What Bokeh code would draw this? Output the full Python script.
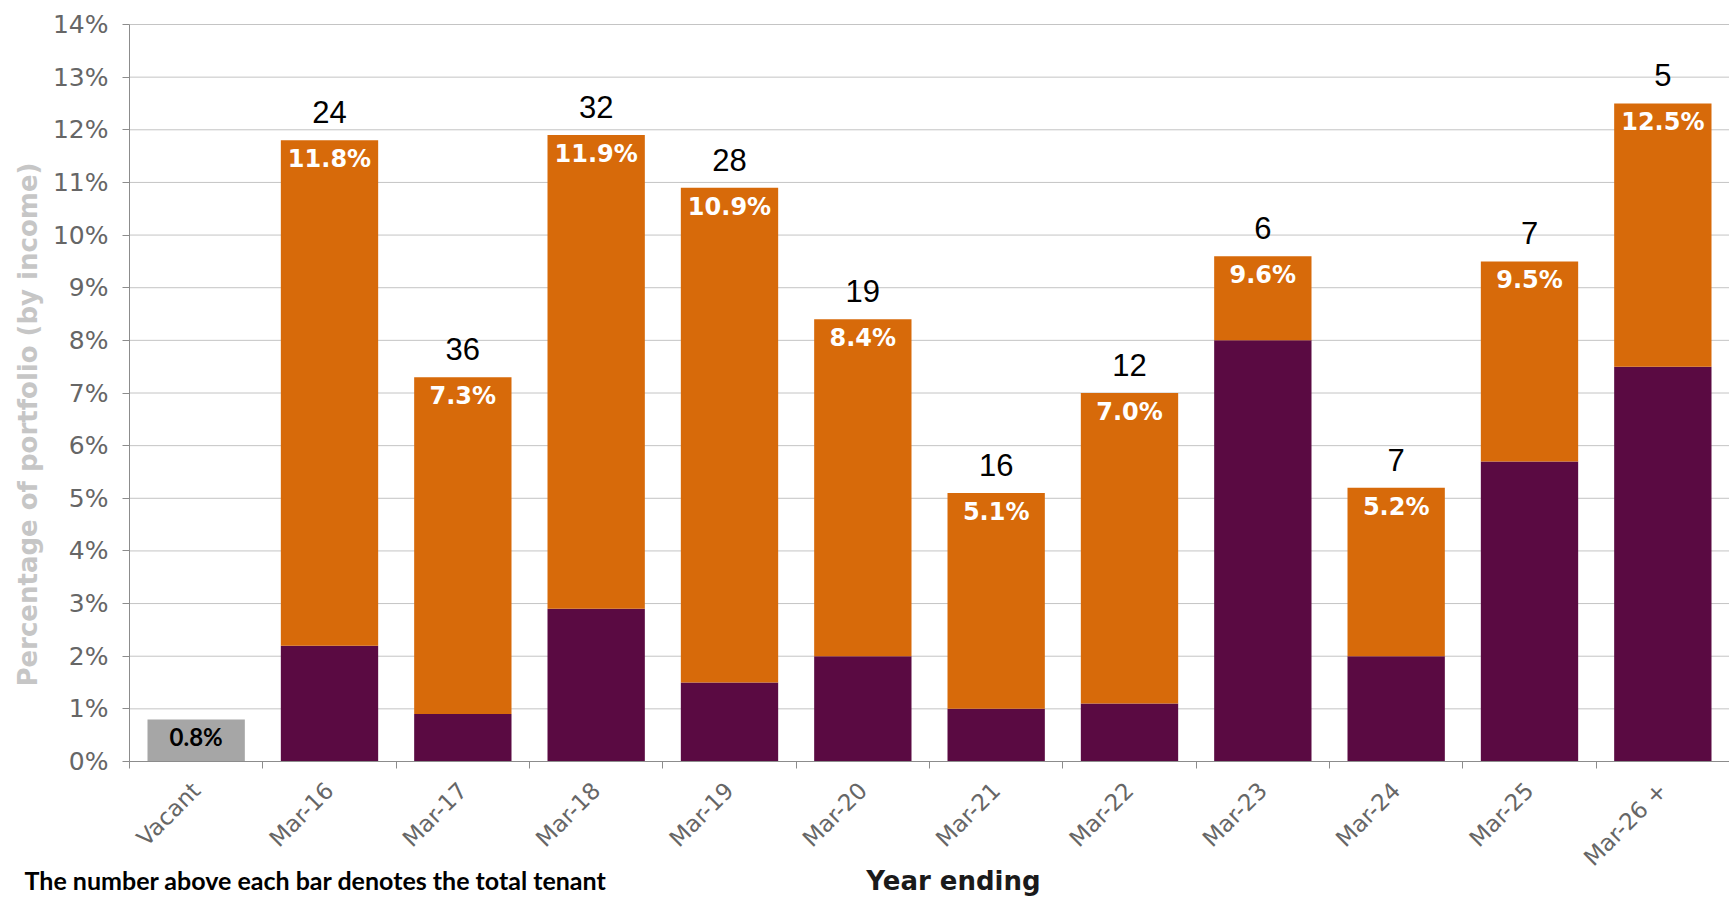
from math import pi

from bokeh.core.properties import value
from bokeh.embed import file_html
from bokeh.models import (ColumnDataSource, CustomJSTickFormatter, FixedTicker,
                          Label, PrintfTickFormatter, Range1d)
from bokeh.plotting import figure
from bokeh.resources import INLINE

# Lease expiry profile: share of portfolio income by year ending
categories = ["Vacant", "Mar-16", "Mar-17", "Mar-18", "Mar-19", "Mar-20",
              "Mar-21", "Mar-22", "Mar-23", "Mar-24", "Mar-25", "Mar-26 +"]
total_share = [0.8, 11.8, 7.3, 11.9, 10.9, 8.4, 5.1, 7.0, 9.6, 5.2, 9.5, 12.5]
base_share = [0.0, 2.2, 0.9, 2.9, 1.5, 2.0, 1.0, 1.1, 8.0, 2.0, 5.7, 7.5]
tenant_counts = [None, 24, 36, 32, 28, 19, 16, 12, 6, 7, 7, 5]
y_ticks = list(range(0, 15))

ORANGE = "#D76A0A"
PURPLE = "#5A0A42"
GREY_BAR = "#A6A6A6"
AXIS_GREY = "#8C8C8C"
TICK_TEXT = "#666666"

n = len(categories)
centers = [i + 0.5 for i in range(n)]
boundaries = list(range(n + 1))

# The frame covers the whole canvas; both axes sit at zero so that the
# titles and the note below the axis can be drawn as ordinary text.
W, H = 1729, 898
LEFT, TOP, BOTTOM = 129, 24, 137
x_per_px = n / (W - LEFT)
y_per_px = y_ticks[-1] / (H - TOP - BOTTOM)
x_range = Range1d(-LEFT * x_per_px, n)
y_range = Range1d(-BOTTOM * y_per_px, y_ticks[-1] + TOP * y_per_px)

p = figure(width=W, height=H, output_backend="svg", toolbar_location=None,
           x_range=x_range, y_range=y_range,
           min_border_left=0, min_border_right=0, min_border_top=0,
           min_border_bottom=0)
p.outline_line_color = None
p.background_fill_color = "white"
p.border_fill_color = "white"
p.xgrid.grid_line_color = None
p.ygrid.grid_line_color = None

# horizontal gridlines, from the value axis to the right edge
p.segment(x0=0, x1=n, y0=y_ticks, y1=y_ticks, line_color="#C4C4C4",
          line_width=1, level="underlay")

# vacant space
vac = ColumnDataSource(dict(x=centers[:1], top=total_share[:1],
                            label=[f"{total_share[0]:.1f}%"]))
p.vbar(x="x", top="top", width=0.73, source=vac, fill_color=GREY_BAR,
       line_color=None)

# stacked expiry bars
src = ColumnDataSource(dict(
    x=centers[1:],
    base=base_share[1:],
    top=total_share[1:],
    pct=[f"{v:.1f}%" for v in total_share[1:]],
    count=[str(c) for c in tenant_counts[1:]],
))
p.vbar(x="x", bottom=0, top="base", width=0.73, source=src,
       fill_color=PURPLE, line_color=None)
p.vbar(x="x", bottom="base", top="top", width=0.73, source=src,
       fill_color=ORANGE, line_color=None)

# percentage labels inside the bars
p.text(x="x", y="top", text="pct", source=src, text_align="center",
       text_baseline="top", y_offset=5, text_color="white",
       text_font=value("DejaVu Sans"), text_font_style="bold",
       text_font_size="24px")
p.text(x="x", y="top", text="label", source=vac, text_align="center",
       text_baseline="top", y_offset=3, text_color="black",
       text_font=value("Lato"), text_font_style="bold",
       text_font_size="24px")

# tenant counts above the bars
p.text(x="x", y="top", text="count", source=src, text_align="center",
       text_baseline="alphabetic", y_offset=-28, text_color="black",
       text_font=value("Liberation Sans"), text_font_size="31px")

# category axis
p.xaxis.fixed_location = 0
p.xaxis.bounds = (0, n)
p.xaxis.ticker = FixedTicker(ticks=centers, minor_ticks=boundaries)
p.xaxis.formatter = CustomJSTickFormatter(
    args=dict(names=categories),
    code="return names[Math.floor(tick)] || '';")
p.xaxis.major_label_orientation = pi / 4
p.xaxis.major_tick_line_color = None
p.xaxis.minor_tick_line_color = AXIS_GREY
p.xaxis.minor_tick_out = 7
p.xaxis.minor_tick_in = 0
p.xaxis.axis_line_color = AXIS_GREY
p.xaxis.major_label_text_color = TICK_TEXT
p.xaxis.major_label_text_font = "DejaVu Sans"
p.xaxis.major_label_text_font_size = "23px"
p.xaxis.major_label_standoff = 18

# value axis
p.yaxis.fixed_location = 0
p.yaxis.bounds = (y_ticks[0], y_ticks[-1])
p.yaxis.ticker = FixedTicker(ticks=y_ticks)
p.yaxis.formatter = PrintfTickFormatter(format="%d%%")
p.yaxis.axis_line_color = AXIS_GREY
p.yaxis.major_tick_line_color = AXIS_GREY
p.yaxis.major_tick_out = 7
p.yaxis.major_tick_in = 0
p.yaxis.minor_tick_line_color = None
p.yaxis.major_label_text_color = TICK_TEXT
p.yaxis.major_label_text_font = "DejaVu Sans"
p.yaxis.major_label_text_font_size = "25px"
p.yaxis.major_label_standoff = 14

# axis titles and note
p.add_layout(Label(x=-102 * x_per_px, y=6.4,
                   text="Percentage of portfolio (by income)",
                   angle=pi / 2, text_align="center", text_baseline="middle",
                   text_color="#C6C6C6", text_font="DejaVu Sans",
                   text_font_style="bold", text_font_size="26px"))
p.add_layout(Label(x=(953 - LEFT) * x_per_px, y=-119 * y_per_px,
                   text="Year ending", text_align="center",
                   text_baseline="alphabetic", text_color="#1a1a1a",
                   text_font="DejaVu Sans", text_font_style="bold",
                   text_font_size="26px"))
p.add_layout(Label(x=-105 * x_per_px, y=-118 * y_per_px,
                   text="The number above each bar denotes the total tenant",
                   text_align="left", text_baseline="alphabetic",
                   text_color="black", text_font="Lato",
                   text_font_style="bold", text_font_size="25px"))

open("out.html", "w").write(file_html(p, INLINE))
